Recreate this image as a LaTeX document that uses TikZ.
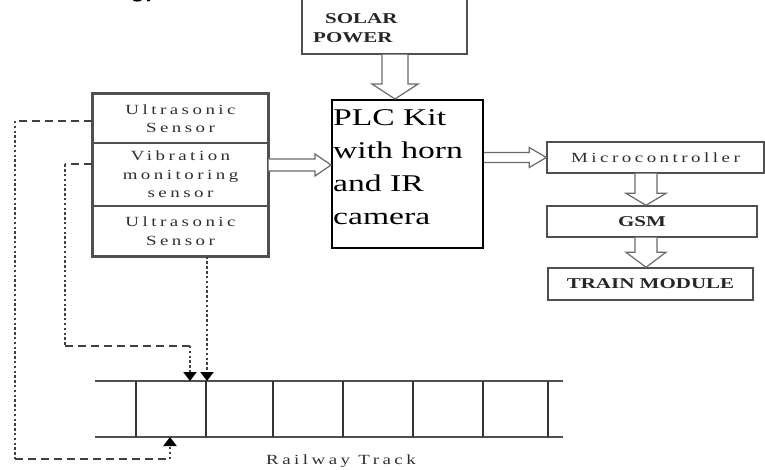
\documentclass[tikz,border=0pt]{standalone}
\usepackage{fontspec}
\setmainfont{Liberation Serif}
\newfontfamily\wideserif{Liberation Serif}[FakeStretch=1.4]
\newfontfamily\spacedserif{Liberation Serif}[FakeStretch=1.35,LetterSpace=25]
\newfontfamily\headfont{Carlito}
\usetikzlibrary{arrows.meta,calc}
\definecolor{boxgray}{HTML}{505050}
\definecolor{txtgray}{HTML}{2E2E2E}
\definecolor{arrgray}{HTML}{6A6A6A}
\definecolor{linegray}{HTML}{404040}
\newcommand\hollowV[5]{%
  \filldraw[harrow] ($#1+(-#3,0)$) -- ($#2+(-#3,-#5)$) -- ($#2+(-#4,-#5)$) -- #2
    -- ($#2+(#4,-#5)$) -- ($#2+(#3,-#5)$) -- ($#1+(#3,0)$);}
\newcommand\hollowH[5]{%
  \filldraw[harrow] ($#1+(0,-#3)$) -- ($#2+(-#5,-#3)$) -- ($#2+(-#5,-#4)$) -- #2
    -- ($#2+(-#5,#4)$) -- ($#2+(-#5,#3)$) -- ($#1+(0,#3)$);}
\begin{document}
\begin{tikzpicture}[x=1pt,y=-1pt,
  box/.style={draw=boxgray, line width=1.4pt, inner sep=0pt},
  sensortext/.style={font=\spacedserif\fontsize{14}{18.5}\selectfont, text=txtgray, align=center},
  boldtext/.style={font=\wideserif\bfseries\fontsize{15}{19}\selectfont, text=black!85},
  harrow/.style={draw=arrgray, fill=white, line width=1.2pt, line join=miter},
  dashline/.style={draw=linegray, line width=2pt, dash pattern=on 8pt off 5pt},
  dotline/.style={draw=linegray, line width=2.5pt, dash pattern=on 2.4pt off 2.4pt},
  tip/.style={-{Triangle[width=13pt,length=9pt,fill=black,color=black]}},
  rail/.style={draw=boxgray, line width=1.5pt},
  tie/.style={draw=black!80, line width=2pt}]
\useasboundingbox (0,0) rectangle (765,470);

% title, cut off by the top edge as in the reference
\node[font=\headfont\bfseries\fontsize{27}{30}\selectfont, anchor=base east, inner sep=0pt] (title) at (157,-2) {Methodology};

% sensor stack
\node[box, sensortext, minimum width=175pt, minimum height=49pt] (us1) at (180.5,118.5) {Ultrasonic\\Sensor};
\node[box, sensortext, minimum width=175pt, minimum height=63pt] (vib) at (180.5,174.5) {Vibration\\monitoring\\sensor};
\node[box, sensortext, minimum width=175pt, minimum height=50pt] (us2) at (180.5,231) {Ultrasonic\\Sensor};
\draw[draw=boxgray, line width=1.8pt] (us1.north west) rectangle (us2.south east);

% solar power
\node[box, minimum width=165pt, minimum height=58pt] (solar) at (384.5,25) {};
\node[boldtext, align=left, anchor=west, inner sep=0pt] (solartext) at (313,28.5) {\hspace*{12pt}SOLAR\\POWER};

% PLC
\node[draw=black, line width=2pt, inner sep=0pt, minimum width=151pt, minimum height=148pt] (plc) at (407.5,174) {};
\node[anchor=north west, inner sep=0pt, align=left, font=\wideserif\fontsize{24}{33}\selectfont] (plctext) at ($(plc.north west)+(2,10)$) {PLC Kit\\with horn\\and IR\\camera};

% right chain
\node[box, sensortext, minimum width=217pt, minimum height=31pt] (micro) at (655.5,157.5) {Microcontroller};
\node[box, boldtext, minimum width=210pt, minimum height=31pt] (gsm) at (652,221.5) {\hspace*{-20pt}GSM};
\node[box, boldtext, minimum width=205pt, minimum height=32pt] (train) at (650.5,284) {TRAIN MODULE};

% hollow arrows
\coordinate (sTip) at ($(plc.north)+(-12.5,0)$);
\coordinate (sBase) at (sTip |- solar.south);
\hollowV{(sBase)}{(sTip)}{13}{23}{15}

\coordinate (pTip) at ($(plc.west)+(0,-9)$);
\coordinate (pBase) at (pTip -| us1.east);
\hollowH{(pBase)}{(pTip)}{6}{11}{16}

\coordinate (mTip) at (micro.west);
\coordinate (mBase) at (mTip -| plc.east);
\hollowH{(mBase)}{(mTip)}{5}{10}{17}

\coordinate (gTip) at ($(gsm.north)+(-6,0)$);
\coordinate (gBase) at (gTip |- micro.south);
\hollowV{(gBase)}{(gTip)}{11}{20}{12}

\coordinate (tTip) at ($(train.north)+(-4.5,0)$);
\coordinate (tBase) at (tTip |- gsm.south);
\hollowV{(tBase)}{(tTip)}{11}{20}{15}

% railway track
\coordinate (rtL) at (95,381);
\coordinate (rtR) at (563,381);
\coordinate (rbL) at (95,437);
\coordinate (rbR) at (563,437);
\draw[rail] (rtL) -- (rtR);
\draw[rail] (rbL) -- (rbR);
\foreach \tx in {136,206,273,343,413,483,548}
  \draw[tie] (\tx,381) -- (\tx,437);
\node[font=\spacedserif\fontsize{14}{16}\selectfont, text=txtgray] (track) at (341,461) {Railway Track};

% connector 1: upper ultrasonic -> bottom rail
\coordinate (a0) at ($(us1.west)+(0,2.5)$);
\coordinate (a1) at (15,121);
\coordinate (a2) at (15,459);
\coordinate (a3) at (170,459);
\draw[dashline] (a0) -- (a1);
\draw[dotline] (a1) -- (a2);
\draw[dashline] (a2) -- (a3);
\draw[dotline, tip] (a3) -- (a3 |- rbL);

% connector 2: vibration sensor -> top rail
\coordinate (b0) at ($(vib.west)+(0,-10)$);
\coordinate (b1) at (65,164.5);
\coordinate (b2) at (65,346);
\coordinate (b3) at (190,346);
\draw[dashline] (b0) -- (b1);
\draw[dotline] (b1) -- (b2);
\draw[dashline] (b2) -- (b3);
\draw[dotline, tip] (b3) -- (b3 |- rtL);

% connector 3: lower ultrasonic -> top rail
\coordinate (c0) at ($(us2.south)+(26.5,0)$);
\draw[dotline, tip] (c0) -- (c0 |- rtL);
\end{tikzpicture}
\end{document}
